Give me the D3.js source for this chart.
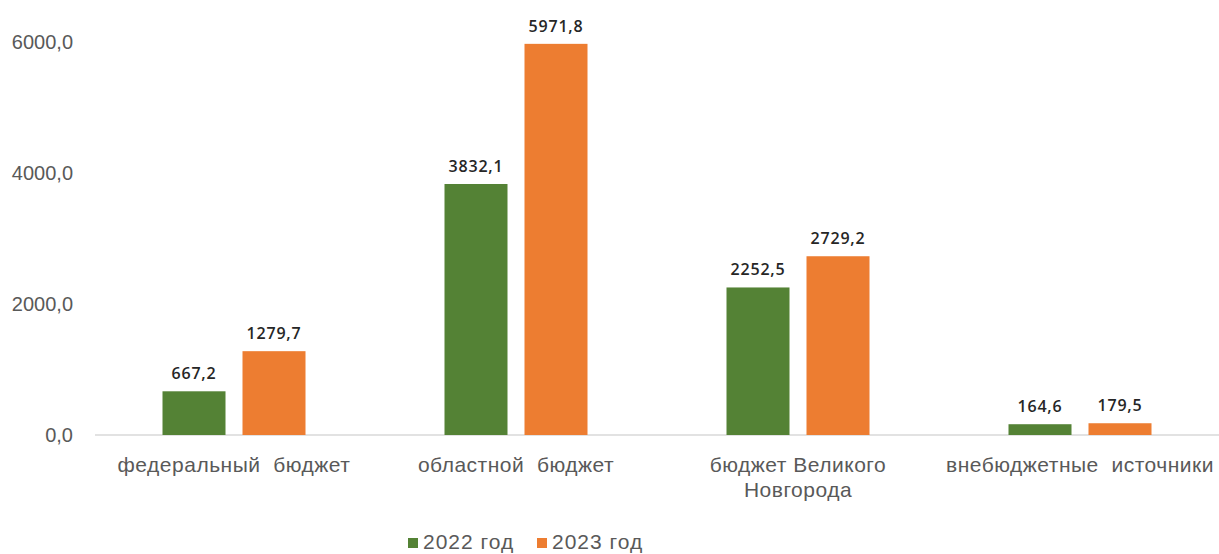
<!DOCTYPE html>
<html>
<head>
<meta charset="utf-8">
<script src="https://cdn.jsdelivr.net/npm/d3@7"></script>
<style>
  html, body { margin: 0; padding: 0; background: #fff; }
  svg { display: block; }
</style>
</head>
<body>
<svg id="chart" width="1219" height="554"></svg>
<script>
const categories = [
  ["федеральный  бюджет"],
  ["областной  бюджет"],
  ["бюджет Великого", "Новгорода"],
  ["внебюджетные  источники"]
];
const seriesNames = ["2022 год", "2023 год"];
const values2022 = [667.2, 3832.1, 2252.5, 164.6];
const values2023 = [1279.7, 5971.8, 2729.2, 179.5];
const valueLabels2022 = ["667,2", "3832,1", "2252,5", "164,6"];
const valueLabels2023 = ["1279,7", "5971,8", "2729,2", "179,5"];
const yTicks = [0, 2000, 4000, 6000];
const yTickLabels = ["0,0", "2000,0", "4000,0", "6000,0"];
const colors = ["#548235", "#ED7D31"];

(function () {
const svg = d3.select("#chart");
const W = 1219, H = 554;
const mLeft = 93, mRight = 1221, mTop = 42, mBottom = 435;

const x0 = d3.scaleBand().domain(d3.range(categories.length)).range([mLeft, mRight]).paddingInner(0).paddingOuter(0);
const pairWidth = 143;
const x1 = d3.scaleBand().domain(d3.range(seriesNames.length)).range([0, pairWidth]).paddingInner(0.2125).paddingOuter(0);
const y = d3.scaleLinear().domain([0, 6000]).range([mBottom, mTop]);

const series = [values2022, values2023];
const labels = [valueLabels2022, valueLabels2023];

// Y axis labels
const yAxis = d3.axisLeft(y).tickValues(yTicks).tickSize(0).tickPadding(0)
  .tickFormat((d, i) => yTickLabels[i]);
const gy = svg.append("g").attr("transform", `translate(73,0)`).call(yAxis);
gy.select(".domain").remove();
gy.selectAll("text")
  .attr("font-family", "'Liberation Sans', Arial, sans-serif")
  .attr("font-size", 20)
  .attr("fill", "#595959");

// baseline axis
svg.append("line")
  .attr("x1", 95).attr("x2", W)
  .attr("y1", y(0)).attr("y2", y(0))
  .attr("stroke", "#d9d9d9").attr("stroke-width", 1.5);

// Bars
const groups = svg.append("g").selectAll("g")
  .data(categories.map((c, i) => i))
  .join("g")
  .attr("transform", i => `translate(${x0(i) + x0.bandwidth() / 2 - pairWidth / 2},0)`);

groups.selectAll("rect")
  .data(i => series.map((s, k) => ({ k, v: s[i], label: labels[k][i] })))
  .join("rect")
  .attr("x", d => x1(d.k))
  .attr("width", x1.bandwidth())
  .attr("y", d => y(d.v))
  .attr("height", d => y(0) - y(d.v))
  .attr("fill", d => colors[d.k]);

groups.selectAll("text.val")
  .data(i => series.map((s, k) => ({ k, v: s[i], label: labels[k][i] })))
  .join("text")
  .attr("class", "val")
  .attr("x", d => x1(d.k) + x1.bandwidth() / 2)
  .attr("y", d => y(d.v) - 12)
  .attr("text-anchor", "middle")
  .attr("font-family", "'Open Sans', sans-serif")
  .attr("font-size", 16)
  .attr("font-weight", 600)
  .attr("letter-spacing", 0.8)
  .attr("fill", "#262626")
  .text(d => d.label);

// Category labels
const catG = svg.append("g").selectAll("text")
  .data(categories.map((c, i) => ({ c, i })))
  .join("text")
  .attr("x", d => x0(d.i) + x0.bandwidth() / 2)
  .attr("y", 472)
  .attr("text-anchor", "middle")
  .attr("font-family", "'Liberation Sans', Arial, sans-serif")
  .attr("font-size", 21)
  .attr("letter-spacing", 0.5)
  .attr("fill", "#595959")
  .style("white-space", "pre");
catG.selectAll("tspan")
  .data(d => d.c.map(line => ({ line, x: x0(d.i) + x0.bandwidth() / 2 })))
  .join("tspan")
  .attr("x", d => d.x)
  .attr("dy", (d, j) => j === 0 ? 0 : 25)
  .text(d => d.line);

// Legend
const legendX = [408, 537];
const leg = svg.append("g").selectAll("g")
  .data(seriesNames.map((n, k) => ({ n, k })))
  .join("g")
  .attr("transform", d => `translate(${legendX[d.k]},0)`);
leg.append("rect").attr("x", 0).attr("y", 538).attr("width", 10).attr("height", 10)
  .attr("fill", d => colors[d.k]);
leg.append("text").attr("x", 15).attr("y", 549)
  .attr("font-family", "'Liberation Sans', Arial, sans-serif")
  .attr("font-size", 21)
  .attr("letter-spacing", 1)
  .attr("fill", "#595959")
  .text(d => d.n);
})();
</script>
</body>
</html>
